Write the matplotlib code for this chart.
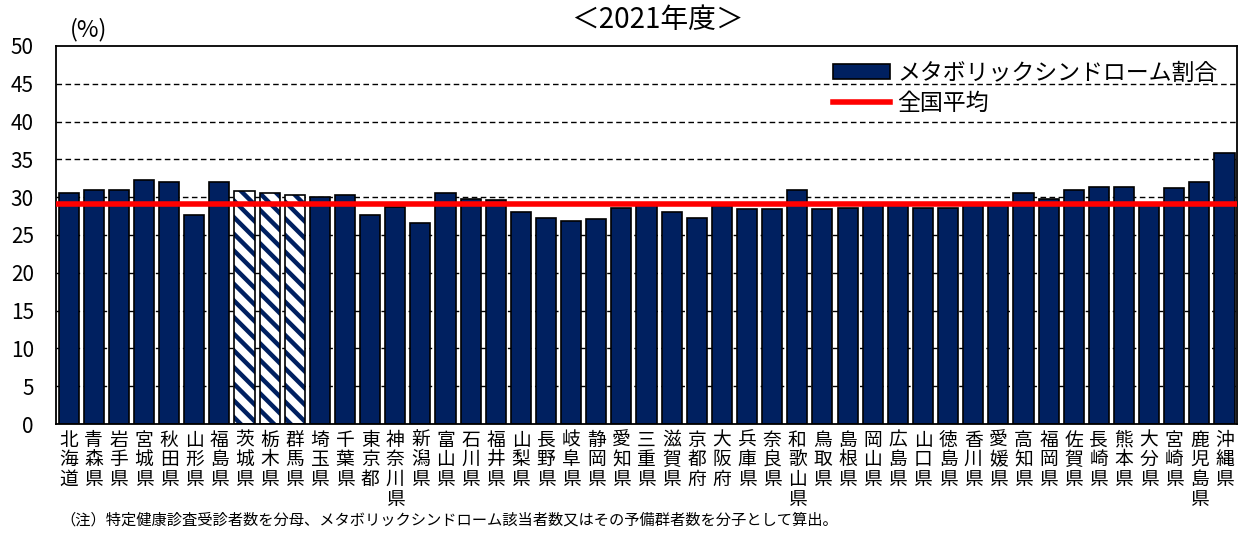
import matplotlib
matplotlib.use("Agg")
import matplotlib.pyplot as plt
from matplotlib.patches import Patch
from matplotlib.lines import Line2D

plt.rcParams['font.family'] = ['Noto Sans CJK JP', 'DejaVu Sans']
plt.rcParams['hatch.linewidth'] = 3.2

prefs = ["北海道", "青森県", "岩手県", "宮城県", "秋田県", "山形県", "福島県",
         "茨城県", "栃木県", "群馬県", "埼玉県", "千葉県", "東京都", "神奈川県",
         "新潟県", "富山県", "石川県", "福井県", "山梨県", "長野県", "岐阜県",
         "静岡県", "愛知県", "三重県", "滋賀県", "京都府", "大阪府", "兵庫県",
         "奈良県", "和歌山県", "鳥取県", "島根県", "岡山県", "広島県", "山口県",
         "徳島県", "香川県", "愛媛県", "高知県", "福岡県", "佐賀県", "長崎県",
         "熊本県", "大分県", "宮崎県", "鹿児島県", "沖縄県"]
rates = [30.6, 31.0, 31.0, 32.3, 32.0, 27.7, 32.0,
         30.8, 30.6, 30.3, 30.0, 30.3, 27.6, 28.7,
         26.6, 30.6, 29.7, 29.6, 28.1, 27.3, 26.9,
         27.1, 28.6, 29.0, 28.1, 27.2, 28.8, 28.4,
         28.5, 30.9, 28.5, 28.6, 29.0, 29.0, 28.6,
         28.6, 29.0, 29.0, 30.5, 29.7, 30.9, 31.3,
         31.3, 29.0, 31.2, 32.0, 35.9]
hatched = ["茨城県", "栃木県", "群馬県"]
national_avg = 29.1

navy = "#002060"

fig = plt.figure(figsize=(12.43, 5.33), dpi=100)
ax = fig.add_axes([0.0451, 0.2045, 0.9501, 0.7092])

x = list(range(len(prefs)))
for i, (p, v) in enumerate(zip(prefs, rates)):
    if p in hatched:
        ax.bar(i, v, width=0.8, color="white", edgecolor=navy, hatch="\\\\",
               linewidth=0, zorder=2)
        ax.bar(i, v, width=0.8, fill=False, edgecolor="black", linewidth=1.2,
               zorder=3)
    else:
        ax.bar(i, v, width=0.8, color=navy, edgecolor="black", linewidth=1.2,
               zorder=2)

ax.axhline(national_avg, color="#ff0000", linewidth=4, zorder=4)

ax.set_xlim(-0.5, len(prefs) - 0.5)
ax.set_ylim(0, 50)
ax.set_yticks(range(0, 51, 5))
for yv in range(5, 50, 5):
    ax.axhline(yv, color="black", linewidth=1.0, linestyle=(0, (4, 2.5)),
               zorder=1)

ax.set_xticks(x)
ax.set_xticklabels(["\n".join(p) for p in prefs], fontsize=13.5,
                   linespacing=0.92, va="top")
ax.tick_params(axis="x", length=0, pad=4)
ax.tick_params(axis="y", length=0, pad=16, labelsize=15)
for s in ax.spines.values():
    s.set_linewidth(1.3)
    s.set_color("black")

handles = [Patch(facecolor=navy, edgecolor="black", linewidth=1.2),
           Line2D([0], [0], color="#ff0000", linewidth=4)]
ax.legend(handles, ["メタボリックシンドローム割合", "全国平均"],
          loc="upper right", bbox_to_anchor=(0.995, 0.995), frameon=False,
          fontsize=16.5, handlelength=2.5, handleheight=0.6,
          handletextpad=0.3, labelspacing=0.3, borderaxespad=0.2)

fig.text(657 / 1243, 1 - 20 / 533, "＜2021年度＞", fontsize=20,
         ha="center", va="center")
fig.text(70 / 1243, 1 - 30 / 533, "(%)", fontsize=17, ha="left",
         va="center")
fig.text(60 / 1243, 1 - 520 / 533,
         "（注）特定健康診査受診者数を分母、メタボリックシンドローム該当者数又はその予備群者数を分子として算出。",
         fontsize=11, ha="left", va="center")

fig.savefig("out.png", dpi=100)
